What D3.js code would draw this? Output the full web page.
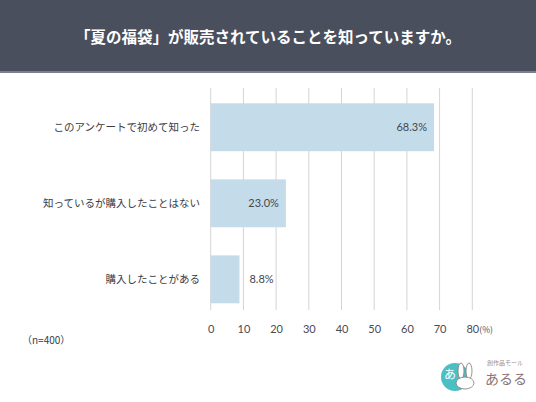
<!DOCTYPE html>
<html>
<head>
<meta charset="utf-8">
<script src="https://cdn.jsdelivr.net/npm/d3@7"></script>
<style>
  body { margin: 0; background: #fff; }
  text { font-family: "Noto Sans CJK JP", "Noto Sans", sans-serif; }
</style>
</head>
<body>
<div id="chart"></div>
<script>
// data
const categories = ["このアンケートで初めて知った", "知っているが購入したことはない", "購入したことがある"];
const values = [68.3, 23.0, 8.8];
const ticks = [0, 10, 20, 30, 40, 50, 60, 70, 80];

const W = 536, H = 402;

const svg = d3.select("#chart")
  .append("svg")
  .attr("width", W)
  .attr("height", H);

// header band
svg.append("rect")
  .attr("x", 0).attr("y", 0)
  .attr("width", W).attr("height", 71)
  .attr("fill", "#4a4f5e");
svg.append("rect")
  .attr("x", 0).attr("y", 71)
  .attr("width", W).attr("height", 2)
  .attr("fill", "#7b808c");

svg.append("text")
  .attr("x", W / 2)
  .attr("y", 43)
  .attr("text-anchor", "middle")
  .attr("fill", "#fff")
  .style("font-size", "15.5px")
  .style("font-weight", "bold")
  .text("「夏の福袋」が販売されていることを知っていますか。");

// scales
let x = d3.scaleLinear()
  .domain([0, 80])
  .range([210.7, 472.3]);

let y = d3.scaleBand()
  .domain(categories)
  .range([103.3, 303.3])
  .paddingInner(0.37)
  .paddingOuter(0);

// gridlines
svg.append("g")
  .selectAll("line")
  .data(ticks)
  .join("line")
  .attr("x1", d => x(d)).attr("x2", d => x(d))
  .attr("y1", 88).attr("y2", 310)
  .attr("stroke", "#d4d4d4")
  .attr("stroke-width", 1);

// x axis labels
const xAxis = svg.append("g")
  .attr("transform", "translate(0,310)")
  .call(d3.axisBottom(x).tickValues(ticks).tickSize(0).tickPadding(15));
xAxis.select(".domain").remove();
xAxis.selectAll("text")
  .attr("fill", "#4a4a55")
  .style("font-size", "11px")
  .style("font-family", "Lato, 'Noto Sans', sans-serif");

svg.append("text")
  .attr("x", x(80) + 7)
  .attr("y", 333)
  .attr("fill", "#4a4a55")
  .style("font-size", "8.5px")
  .text("(%)");

// bars
svg.append("g")
  .selectAll("rect")
  .data(values)
  .join("rect")
  .attr("x", x(0))
  .attr("y", (d, i) => y(categories[i]))
  .attr("width", d => x(d) - x(0))
  .attr("height", y.bandwidth())
  .attr("fill", "#c4dcea");

// value labels
svg.append("g")
  .selectAll("text")
  .data(values)
  .join("text")
  .attr("x", d => d > 15 ? x(d) - 7 : x(d) + 10)
  .attr("y", (d, i) => y(categories[i]) + y.bandwidth() / 2 + 4)
  .attr("text-anchor", d => d > 15 ? "end" : "start")
  .attr("fill", "#44464f")
  .style("font-size", "11px")
  .style("font-family", "Lato, 'Noto Sans', sans-serif")
  .text(d => d.toFixed(1) + "%");

// category labels
svg.append("g")
  .selectAll("text")
  .data(categories)
  .join("text")
  .attr("x", 200)
  .attr("y", d => y(d) + y.bandwidth() / 2 + 4)
  .attr("text-anchor", "end")
  .attr("fill", "#3a3c44")
  .style("font-size", "10.5px")
  .text(d => d);

svg.append("text")
  .attr("x", 22)
  .attr("y", 344)
  .attr("fill", "#3a3c44")
  .style("font-size", "10px")
  .text("（n=400）");

// logo
const logo = svg.append("g").attr("transform", "translate(455,377)");
logo.append("circle")
  .attr("r", 14)
  .attr("fill", "#4bbfc3");
logo.append("text")
  .attr("x", -11).attr("y", 2)
  .attr("fill", "#fff")
  .style("font-size", "12px")
  .text("あ");
// rabbit ears, roughly
logo.append("ellipse")
  .attr("cx", 6).attr("cy", -6).attr("rx", 3).attr("ry", 8)
  .attr("fill", "#fff").attr("stroke", "#8a7676").attr("stroke-width", 0.8);
logo.append("ellipse")
  .attr("cx", 14).attr("cy", -6).attr("rx", 3).attr("ry", 8)
  .attr("fill", "#fff").attr("stroke", "#8a7676").attr("stroke-width", 0.8);
logo.append("ellipse")
  .attr("cx", 10).attr("cy", 6).attr("rx", 9).attr("ry", 6)
  .attr("fill", "#fff").attr("stroke", "#8a7676").attr("stroke-width", 0.8);
logo.append("text")
  .attr("x", 32).attr("y", -12)
  .attr("fill", "#9c8a8a")
  .style("font-size", "6px")
  .text("創作品モール");
logo.append("text")
  .attr("x", 30).attr("y", 7)
  .attr("fill", "#8a7676")
  .style("font-size", "14px")
  .text("あるる");
</script>
</body>
</html>
